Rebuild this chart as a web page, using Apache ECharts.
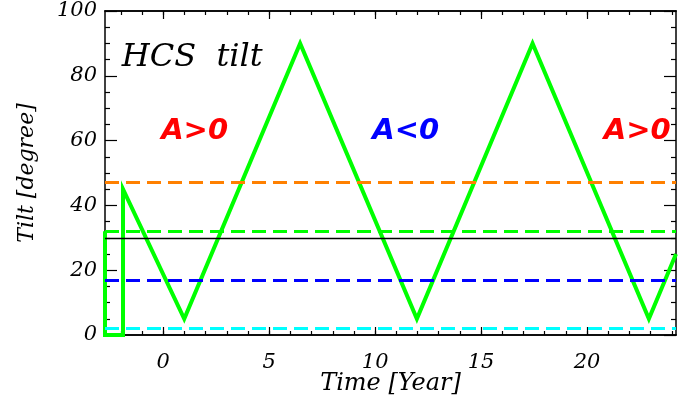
<!DOCTYPE html>
<html><head><meta charset="utf-8">
<script src="https://cdn.jsdelivr.net/npm/echarts@6/dist/echarts.min.js"></script>
<style>html,body{margin:0;padding:0;background:#fff}#c{width:679px;height:404px}</style>
</head><body><div id="c"></div>
<script>
// ---- data ----
const years = [-2.75, -2.75, -1.9, -1.9, 0.99, 6.46, 11.97, 17.43, 22.92, 24.2];
const tilt  = [32, 0, 0, 45, 5, 90, 5, 90, 5, 25];
const xRange = [-2.75, 24.2];
const yRange = [0, 100];
const xMajorTicks = [0, 5, 10, 15, 20];
const xMinorTicks = [-2,-1,0,1,2,3,4,5,6,7,8,9,10,11,12,13,14,15,16,17,18,19,20,21,22,23,24];
const levelValues = [47, 32, 30, 17, 2];
const annoTexts = ['HCS  tilt', 'A>0', 'A<0', 'A>0'];
const annoYears = [-1.96, 1.48, 11.44, 22.37];
const annoTilts = [85.5, 62.7, 62.7, 62.7];

// ---- styles ----
const levelStyles = [
  {color:'#ff8000', type:[14,7], width:3},
  {color:'#00ff00', type:[14,7], width:3},
  {color:'#000000', type:'solid', width:1.3},
  {color:'#0000ff', type:[14,7], width:3},
  {color:'#00ffff', type:[14,7], width:3}
];
const annoStyles = [
  {fill:'#000', font:'italic 32px "DejaVu Serif"', align:'left'},
  {fill:'#ff0000', font:'italic bold 29px "DejaVu Sans"', align:'center'},
  {fill:'#0000ff', font:'italic bold 29px "DejaVu Sans"', align:'center'},
  {fill:'#ff0000', font:'italic bold 29px "DejaVu Sans"', align:'center'}
];
const tickFont = {color:'#000', fontFamily:'DejaVu Serif', fontStyle:'italic', fontSize:21};

const chart = echarts.init(document.getElementById('c'), null, {renderer:'canvas'});

function xAx(pos, ticks, len, labels){
  return {
    type:'value', position:pos, min:xRange[0], max:xRange[1],
    axisLine:{show:true, onZero:false, lineStyle:{color:'#000', width:1.5}},
    axisTick:{show:true, inside:true, length:len, customValues:ticks, lineStyle:{color:'#000', width:1.2}},
    axisLabel: labels ? Object.assign({show:true, customValues:xMajorTicks, margin:17}, tickFont) : {show:false},
    splitLine:{show:false},
    name: labels ? 'Time [Year]' : '',
    nameLocation:'middle', nameGap:37,
    nameTextStyle:{color:'#000', fontFamily:'DejaVu Serif', fontStyle:'italic', fontSize:24},
    nameMoveOverlap:false
  };
}
function yAx(pos, labels){
  return {
    type:'value', position:pos, min:yRange[0], max:yRange[1], interval:20,
    axisLine:{show:true, onZero:false, lineStyle:{color:'#000', width:1.5}},
    axisTick:{show:true, inside:true, length:12, lineStyle:{color:'#000', width:1.2}},
    minorTick:{show:true, splitNumber:4, length:5, lineStyle:{color:'#000', width:1.2}},
    axisLabel: labels ? Object.assign({show:true, margin:8}, tickFont) : {show:false},
    splitLine:{show:false},
    name: labels ? 'Tilt [degree]' : '',
    nameLocation:'middle', nameGap:67, nameRotate:90,
    nameTextStyle:{color:'#000', fontFamily:'DejaVu Serif', fontStyle:'italic', fontSize:22},
    nameMoveOverlap:false
  };
}

const series = [];
series.push({
  type:'line', xAxisIndex:0, yAxisIndex:0,
  data: years.map((x,i)=>[x, tilt[i]]),
  showSymbol:false, symbol:'none', clip:true, z:2,
  lineStyle:{color:'#00ff00', width:4, join:'miter'}
});
series.push({
  type:'line', xAxisIndex:0, yAxisIndex:0, data:[], z:3,
  markLine:{
    silent:true, symbol:['none','none'], label:{show:false}, animation:false,
    data: levelValues.map((v,i)=>({yAxis:v, lineStyle:levelStyles[i]}))
  }
});

chart.setOption({
  animation:false,
  backgroundColor:'#fff',
  grid:{left:105, top:11, right:3, bottom:69, outerBoundsMode:'none', containLabel:false},
  xAxis:[xAx('bottom', xMajorTicks, 8, true), xAx('bottom', xMinorTicks, 4, false),
         xAx('top', xMajorTicks, 8, false), xAx('top', xMinorTicks, 4, false)],
  yAxis:[yAx('left', true), yAx('right', false)],
  series: series
});

const graphics = annoTexts.map((t,i)=>{
  const p = chart.convertToPixel({xAxisIndex:0, yAxisIndex:0}, [annoYears[i], annoTilts[i]]);
  const s = annoStyles[i];
  return {type:'text', x:p[0], y:p[1], z:100,
    style:{text:t, fill:s.fill, font:s.font, align:s.align, verticalAlign:'middle'}};
});
chart.setOption({graphic:graphics});
</script>
</body></html>
